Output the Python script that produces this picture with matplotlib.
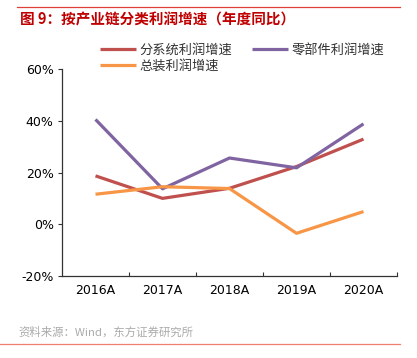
import matplotlib
matplotlib.use("Agg")
import matplotlib.pyplot as plt
from matplotlib.lines import Line2D

plt.rcParams['font.family'] = ['Noto Sans CJK SC', 'DejaVu Sans']

years = ['2016A', '2017A', '2018A', '2019A', '2020A']
system_profit = [18.7, 10.0, 13.9, 22.3, 32.9]
parts_profit = [40.5, 13.7, 25.6, 21.8, 38.8]
assembly_profit = [11.6, 14.5, 13.8, -3.5, 4.9]

names = ['分系统利润增速', '零部件利润增速', '总装利润增速']
colors = ['#C0504D', '#8064A2', '#F79646']

W, H = 417, 358
fig = plt.figure(figsize=(W / 100, H / 100), dpi=100)
ax = fig.add_axes([62 / W, (H - 276) / H, (397 - 62) / W, (276 - 69) / H])

x = range(len(years))
lines = []
for vals, c in zip([system_profit, parts_profit, assembly_profit], colors):
    ln, = ax.plot(x, vals, color=c, lw=2.3, solid_capstyle='butt')
    lines.append(ln)

ax.set_xlim(-0.5, len(years) - 0.5)
ax.set_ylim(-20, 60)
ax.set_yticks([-20, 0, 20, 40, 60])
ax.set_yticklabels(['-20%', '0%', '20%', '40%', '60%'], fontsize=9, family='DejaVu Sans')
ax.set_xticks([i + 0.5 for i in range(len(years))], minor=False)
ax.set_xticklabels([])
ax.set_xticks(list(x), minor=True)
ax.set_xticklabels(years, minor=True, fontsize=9, family='DejaVu Sans')
ax.tick_params(axis='x', which='minor', length=0, pad=6)
ax.tick_params(axis='x', which='major', length=3, direction='in', color='#333333')
ax.tick_params(axis='y', length=3, direction='out', color='#333333', pad=3)
for s in ['top', 'right']:
    ax.spines[s].set_visible(False)
for s in ['left', 'bottom']:
    ax.spines[s].set_color('#333333')
    ax.spines[s].set_linewidth(0.9)

handles = [lines[0], lines[2], lines[1]]
labels = [names[0], names[2], names[1]]
fig.legend(handles, labels, ncol=2, frameon=False, fontsize=9.5,
           loc='upper left', bbox_to_anchor=(88 / W, 1 - 32 / H),
           handlelength=2.7, handletextpad=0.3, columnspacing=1.5,
           labelspacing=0.2, labelcolor='#333333')

fig.text(20 / W, 1 - 20 / H, '图 9：按产业链分类利润增速（年度同比）', color='#C00000',
         fontsize=10.5, fontweight='bold', va='center', ha='left')
fig.add_artist(Line2D([17 / W, 400 / W], [1 - 7 / H, 1 - 7 / H], color='#E0403A', lw=0.9))
fig.add_artist(Line2D([0, 400 / W], [1 - 344 / H, 1 - 344 / H], color='#F08070', lw=0.9))
fig.text(18 / W, 1 - 332 / H, '资料来源：Wind，东方证券研究所', color='#AAAAAA',
         fontsize=8.2, va='center', ha='left')

fig.savefig('out.png', dpi=100)
